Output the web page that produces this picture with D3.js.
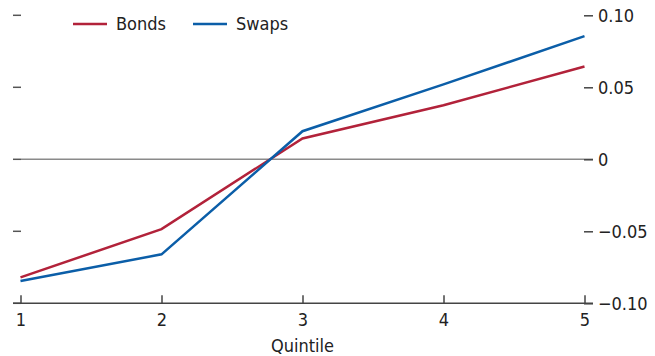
<!DOCTYPE html>
<html><head><meta charset="utf-8">
<script src="https://cdn.jsdelivr.net/npm/d3@7"></script>
<style>
body{margin:0;background:#fff;}
text{font-family:"Liberation Sans Narrow","DejaVu Sans Condensed",sans-serif;fill:#222;}
</style></head>
<body><svg id="c" width="655" height="356"></svg>
<script>
const quintiles = [1, 2, 3, 4, 5];
const bonds = [-0.082, -0.0485, 0.0145, 0.0375, 0.0645];
const swaps = [-0.0845, -0.066, 0.0195, 0.052, 0.0855];
const yTicks = [0.10, 0.05, 0, -0.05, -0.10];
const yTickLabels = ["0.10", "0.05", "0", "\u22120.05", "\u22120.10"];
const seriesNames = ["Bonds", "Swaps"];
const colors = ["#b2223a", "#0b5ea8"];

const svg = d3.select("#c");
const x = d3.scaleLinear().domain([1, 5]).range([20.5, 584.5]);
const y = d3.scaleLinear().domain([-0.10, 0.10]).range([303.3, 15.3]);

// zero line
svg.append("line").attr("x1", 21).attr("x2", 593).attr("y1", y(0)).attr("y2", y(0))
  .attr("stroke", "#8a8a8a").attr("stroke-width", 1.5);

// left ticks
svg.append("g").selectAll("line").data(yTicks).join("line")
  .attr("x1", 13).attr("x2", 21).attr("y1", d => y(d)).attr("y2", d => y(d))
  .attr("stroke", "#555").attr("stroke-width", 1.5);

// right axis
const right = svg.append("g").attr("transform", "translate(584,0)")
  .call(d3.axisRight(y).tickValues(yTicks).tickSize(9).tickPadding(5)
    .tickFormat((d, i) => yTickLabels[i]));
right.select(".domain").remove();
right.selectAll(".tick line").attr("stroke", "#444").attr("stroke-width", 1.5);
right.selectAll(".tick text").attr("font-size", 18).attr("fill", "#222")
  .style("font-family", '"Liberation Sans Narrow","DejaVu Sans Condensed",sans-serif');

// bottom axis
const bottom = svg.append("g").attr("transform", `translate(0,${y(-0.10)})`)
  .call(d3.axisBottom(x).tickValues(quintiles).tickSize(0).tickPadding(10).tickFormat(d3.format("d")));
bottom.select(".domain").remove();
bottom.selectAll(".tick text").attr("font-size", 18).attr("fill", "#222")
  .style("font-family", '"Liberation Sans Narrow","DejaVu Sans Condensed",sans-serif');
bottom.selectAll(".tick").append("line").attr("y1", -8).attr("y2", 0)
  .attr("stroke", "#444").attr("stroke-width", 1.5);
svg.append("line").attr("x1", 13).attr("x2", 593).attr("y1", y(-0.10)).attr("y2", y(-0.10))
  .attr("stroke", "#444").attr("stroke-width", 1.5);

svg.append("text").attr("x", x(3)).attr("y", 352).attr("text-anchor", "middle")
  .attr("font-size", 18).text("Quintile");

// lines
const line = d3.line().x((d, i) => x(quintiles[i])).y(d => y(d));
[bonds, swaps].forEach((s, k) => {
  svg.append("path").datum(s).attr("d", line).attr("fill", "none")
    .attr("stroke", colors[k]).attr("stroke-width", 2.5);
});

// legend
const legX = [73, 193];
seriesNames.forEach((n, k) => {
  svg.append("line").attr("x1", legX[k]).attr("x2", legX[k] + 34).attr("y1", 24).attr("y2", 24)
    .attr("stroke", colors[k]).attr("stroke-width", 2.5);
  svg.append("text").attr("x", legX[k] + 43).attr("y", 30).attr("font-size", 18).text(n);
});
</script></body></html>
